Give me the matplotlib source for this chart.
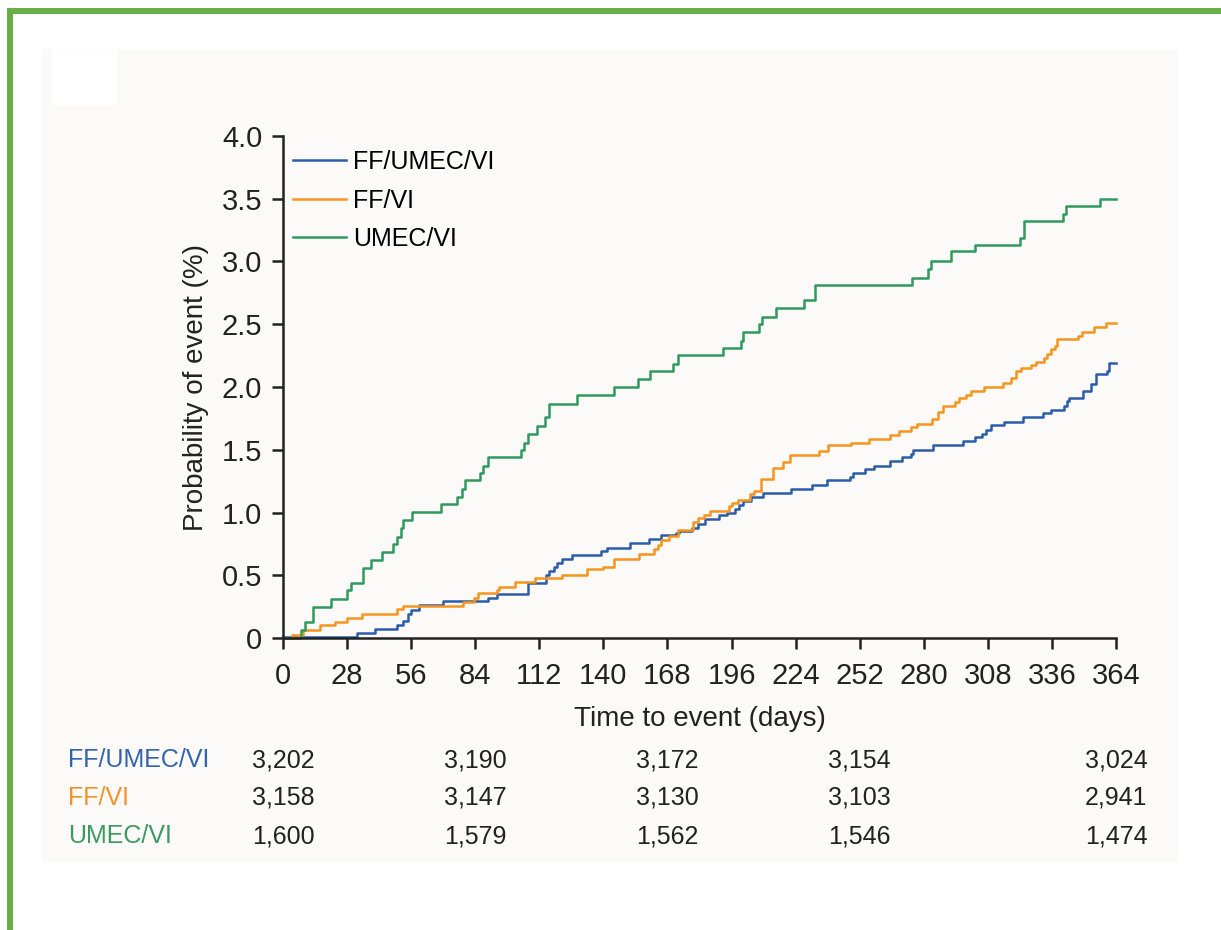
import numpy as np
import matplotlib.pyplot as plt
from matplotlib.patches import Rectangle
import matplotlib.transforms as mtransforms

plt.rcParams['font.family'] = ['Liberation Sans', 'DejaVu Sans']

# step points: (day, cumulative probability %)
fumv_days = [0, 32.5, 40.1, 49.7, 52.6, 54.7, 56.1, 59.5, 70.1, 89.4, 93.7, 106.9, 114.9,
             116.3, 118.5, 119.7, 121.7, 126.5, 138.9, 141.5, 151.7, 160, 165.2, 171.7,
             173.2, 178.8, 181.3, 184.2, 190.5, 194.1, 197.3, 199.2, 201.1, 204.3, 209.7,
             222.2, 231.3, 237.8, 247.7, 249.2, 254.3, 258.2, 265.2, 270.6, 274.3, 275.4,
             284.2, 297.3, 302.4, 305.6, 307.1, 309.3, 315.1, 323.4, 331.9, 335.5, 341.3,
             342.8, 343.5, 349.4, 353, 355.2, 360, 361, 364]
fumv_prob = [0.01, 0.038, 0.07, 0.10, 0.137, 0.19, 0.225, 0.266, 0.294, 0.32, 0.35, 0.437,
             0.50, 0.53, 0.568, 0.60, 0.63, 0.664, 0.69, 0.72, 0.76, 0.79, 0.82, 0.84,
             0.85, 0.88, 0.91, 0.947, 0.98, 0.994, 1.03, 1.062, 1.09, 1.126, 1.158,
             1.186, 1.22, 1.255, 1.28, 1.318, 1.345, 1.373, 1.41, 1.444, 1.466, 1.50,
             1.535, 1.57, 1.598, 1.625, 1.658, 1.694, 1.72, 1.763, 1.79, 1.817, 1.845,
             1.886, 1.91, 1.968, 2.02, 2.10, 2.13, 2.19, 2.19]

fv_days = [0, 3.8, 8.7, 16.2, 22.7, 28, 34.7, 49.7, 52.6, 78.6, 83.5, 85.4, 93.7, 94.2,
           101.3, 110, 121.9, 132.7, 140, 144.8, 155.4, 162.2, 163.7, 165.2, 168.8,
           172.4, 179.1, 181.3, 183.9, 186.8, 195.1, 196.3, 198.8, 203.9, 206, 208.7,
           214.2, 218.3, 221.5, 234.2, 238.1, 248.3, 256, 265.1, 269.3, 274.3, 277.2,
           283.8, 286.4, 288.4, 293.5, 295.4, 298.3, 300.5, 306.3, 314.7, 318, 320.5,
           322.7, 326.8, 329.1, 332.6, 334, 335.5, 337.3, 338.4, 347.5, 349.3, 354.4,
           359.6, 364]
fv_prob = [0, 0.027, 0.066, 0.10, 0.13, 0.16, 0.19, 0.23, 0.258, 0.285, 0.32, 0.357, 0.384,
           0.41, 0.45, 0.478, 0.505, 0.546, 0.568, 0.63, 0.67, 0.706, 0.74, 0.78, 0.815,
           0.857, 0.925, 0.953, 0.98, 1.013, 1.049, 1.076, 1.10, 1.145, 1.17, 1.263,
           1.356, 1.40, 1.46, 1.488, 1.537, 1.557, 1.584, 1.62, 1.653, 1.68, 1.708,
           1.749, 1.80, 1.845, 1.878, 1.91, 1.935, 1.968, 2.0, 2.03, 2.07, 2.125,
           2.15, 2.175, 2.20, 2.235, 2.26, 2.30, 2.325, 2.38, 2.41, 2.44, 2.48,
           2.51, 2.51]

umv_days = [0, 7.7, 9.6, 13.3, 20.9, 28, 29.6, 35.1, 38.6, 43.1, 48.1, 50, 51.6, 52.6,
            56.4, 69, 76, 78.4, 79.4, 86.2, 87.5, 89.7, 104.2, 105.1, 107.1, 110.8,
            114.6, 116.3, 128.3, 144.8, 155, 160.3, 170.3, 172.4, 192.2, 200.2, 201.1,
            208.2, 209.4, 215.4, 227.5, 232.3, 274.9, 282, 283.2, 292.1, 302.6, 322.2,
            324, 340.9, 342.2, 356.9, 364]
umv_prob = [0, 0.066, 0.124, 0.247, 0.313, 0.384, 0.44, 0.56, 0.623, 0.686, 0.752, 0.807,
            0.873, 0.939, 1.005, 1.068, 1.126, 1.186, 1.255, 1.318, 1.373, 1.439, 1.50,
            1.557, 1.625, 1.686, 1.757, 1.867, 1.935, 2.0, 2.065, 2.128, 2.18, 2.257,
            2.31, 2.37, 2.44, 2.50, 2.56, 2.63, 2.69, 2.81, 2.87, 2.94, 3.006, 3.08,
            3.135, 3.19, 3.32, 3.38, 3.445, 3.50, 3.50]

groups = ['FF/UMEC/VI', 'FF/VI', 'UMEC/VI']
colors = ['#2a5caa', '#f7941d', '#2e9a5e']
label_colors = ['#3463ad', '#f4922a', '#3c9a60']

risk_days = [0, 84, 168, 252, 364]
risk_fumv = ['3,202', '3,190', '3,172', '3,154', '3,024']
risk_fv = ['3,158', '3,147', '3,130', '3,103', '2,941']
risk_umv = ['1,600', '1,579', '1,562', '1,546', '1,474']

W, H = 1221, 930
fig = plt.figure(figsize=(W / 100, H / 100), dpi=100)
fig.patch.set_facecolor('white')

def px_rect(x0, y0, x1, y1, color, z):
    fig.patches.append(Rectangle((x0 / W, 1 - y1 / H), (x1 - x0) / W, (y1 - y0) / H,
                                 transform=fig.transFigure, facecolor=color,
                                 edgecolor='none', zorder=z))

px_rect(42, 49, 1178, 862, '#fbfaf8', -3)
px_rect(52, 50, 117, 105, 'white', -2)
px_rect(7, 8, 13, 930, '#6aaf45', -1)
px_rect(7, 8, 1221, 14, '#6aaf45', -1)

ax = fig.add_axes([283 / W, 1 - 638 / H, 833 / W, 502 / H])
ax.set_facecolor('none')

series = [(fumv_days, fumv_prob), (fv_days, fv_prob), (umv_days, umv_prob)]
for (d, p), g, c in zip(series, groups, colors):
    ax.plot(d, p, drawstyle='steps-post', color=c, lw=1.8, label=g, clip_on=False)

ax.set_xlim(0, 364)
ax.set_ylim(0, 4.0)
ax.set_xticks(np.arange(0, 365, 28))
ax.set_yticks(np.arange(0, 4.01, 0.5))
ax.set_yticklabels(['0'] + ['%.1f' % v for v in np.arange(0.5, 4.01, 0.5)])
for s in ['top', 'right']:
    ax.spines[s].set_visible(False)
for s in ['left', 'bottom']:
    ax.spines[s].set_linewidth(1.8)
    ax.spines[s].set_color('#222222')
ax.tick_params(direction='out', length=8, width=1.8, labelsize=21, colors='#222222')
ax.tick_params(axis='x', pad=9)
ax.tick_params(axis='y', pad=7)

ax.set_xlabel('Time to event (days)', fontsize=20, labelpad=12, color='#222222')
ax.set_ylabel('Probability of event (%)', fontsize=20, labelpad=9, color='#222222')

leg = ax.legend(loc='upper left', frameon=False, fontsize=18, handlelength=2.1,
                handletextpad=0.3, labelspacing=0.58, borderpad=0, borderaxespad=0,
                bbox_to_anchor=(10 / 833, 0.972))

trans = mtransforms.blended_transform_factory(ax.transData, fig.transFigure)
rows = [risk_fumv, risk_fv, risk_umv]
row_y = [760, 798, 836]
for r, g, c, y in zip(rows, groups, label_colors, row_y):
    fig.text(68 / W, 1 - y / H, g, color=c, fontsize=18, va='center', ha='left')
    for d, v in zip(risk_days, r):
        ax.text(d, 1 - y / H, v, transform=trans, fontsize=18, va='center', ha='center',
                color='#222222')

fig.savefig('out.png', dpi=100)
